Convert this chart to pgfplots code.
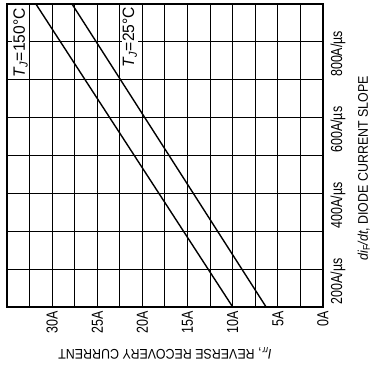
\documentclass[border=0pt]{standalone}
\usepackage{fontspec}
\setmainfont{Liberation Sans}
\newfontfamily\tickfont{Liberation Sans}[FakeStretch=0.78]
\newfontfamily\labfont{Liberation Sans}[FakeStretch=0.89]
\newfontfamily\annfont{Liberation Sans}[FakeStretch=0.95]
\usepackage{pgfplots}
\pgfplotsset{compat=1.18}
\begin{document}
\begin{tikzpicture}
\begin{axis}[
  scale only axis,
  width=316bp, height=303bp,
  xmin=0, xmax=35, x dir=reverse,
  ymin=100, ymax=900,
  xtick={0,5,10,15,20,25,30},
  xticklabels={0A,5A,10A,15A,20A,25A,30A},
  minor xtick={2.5,7.5,12.5,17.5,22.5,27.5,32.5},
  ytick={200,400,600,800},
  yticklabels={200A/\textmu s,400A/\textmu s,600A/\textmu s,800A/\textmu s},
  minor ytick={300,500,700},
  yticklabel pos=right,
  grid=both,
  major grid style={black, line width=1.0pt},
  minor grid style={black, line width=1.0pt},
  major tick length=0pt, minor tick length=0pt,
  axis line style={black, line width=1.3pt},
  tick label style={font=\tickfont\fontsize{16}{18}\selectfont},
  xticklabel style={rotate=90, anchor=east},
  yticklabel style={rotate=90, anchor=north, xshift=-12bp},
  yticklabel shift=4bp,
  xticklabel shift=1bp,
  xlabel={\textit{I}\textsubscript{\textit{rr}}, REVERSE RECOVERY CURRENT},
  xlabel style={at={(ticklabel cs:0.5)}, anchor=south, rotate=180, font=\labfont\fontsize{14}{16}\selectfont},
  xlabel shift=7bp,
  ylabel={\textit{di}\textsubscript{F}\textit{/dt}, DIODE CURRENT SLOPE},
  ylabel style={font=\labfont\fontsize{14}{16}\selectfont, xshift=-13bp},
  ylabel shift=5.5bp,
]
\addplot[black, line width=1.4pt] coordinates {(31.8,900) (10.0,100)};
\addplot[black, line width=1.4pt] coordinates {(27.8,900) (6.3,100)};
\node[rotate=90, fill=white, inner sep=1pt, font=\annfont\fontsize{16.5}{18}\selectfont] at (axis cs:33.5,797) {\textit{T}\textsubscript{\textit{J}}=150°C};
\node[rotate=90, fill=white, inner sep=1pt, font=\annfont\fontsize{16.5}{18}\selectfont] at (axis cs:21.4,812) {\textit{T}\textsubscript{\textit{J}}=25°C};
\end{axis}
\pgfresetboundingbox
\path[use as bounding box] ([xshift=-7bp,yshift=-60bp]current axis.south west) rectangle ([xshift=48bp,yshift=4bp]current axis.north east);
\end{tikzpicture}
\end{document}
